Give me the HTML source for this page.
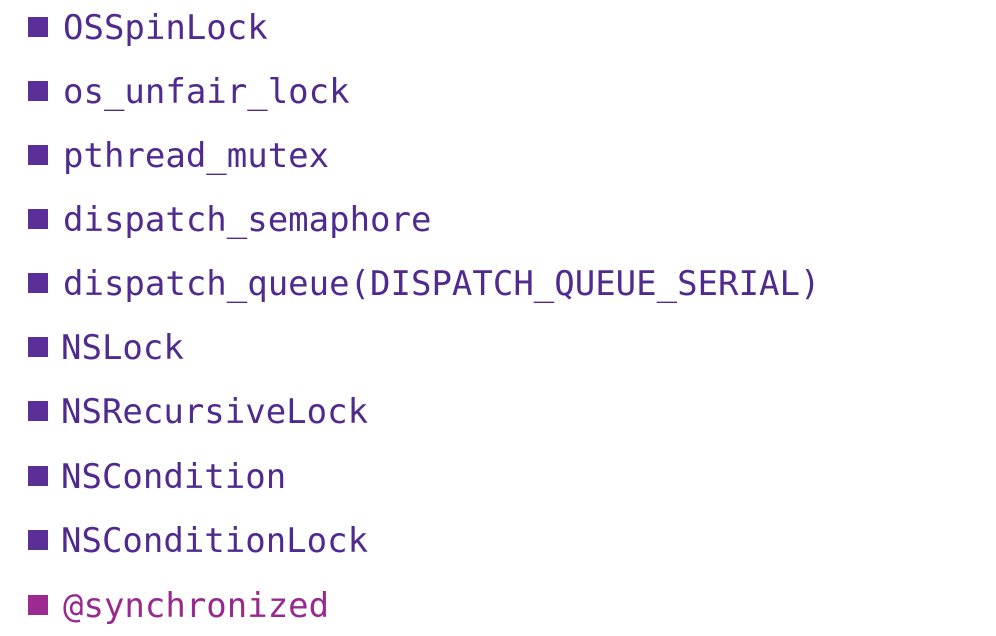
<!DOCTYPE html>
<html><head><style>
body{margin:0;width:996px;height:636px;background:#fff;position:relative;overflow:hidden}
.r{position:absolute;left:0;height:40px;line-height:40px;font-family:"DejaVu Sans Mono","Liberation Mono",monospace;font-size:34px;color:#4f2a8f;white-space:nowrap}
.r i{position:absolute;left:28px;top:10px;width:20px;height:20px;background:#5a2f97}
.r span{position:absolute;left:63px;top:1px}
.m{color:#982a8e}.m i{background:#9c2a90}
</style></head><body>
<div class="r" style="top:7px"><i></i><span>OSSpinLock</span></div>
<div class="r" style="top:71px"><i></i><span>os_unfair_lock</span></div>
<div class="r" style="top:135px"><i></i><span>pthread_mutex</span></div>
<div class="r" style="top:199px"><i></i><span>dispatch_semaphore</span></div>
<div class="r" style="top:263px"><i></i><span>dispatch_queue(DISPATCH_QUEUE_SERIAL)</span></div>
<div class="r" style="top:327px"><i></i><span style="left:61px">NSLock</span></div>
<div class="r" style="top:391px"><i></i><span style="left:61px">NSRecursiveLock</span></div>
<div class="r" style="top:456px"><i></i><span style="left:61px">NSCondition</span></div>
<div class="r" style="top:520px"><i></i><span style="left:61px">NSConditionLock</span></div>
<div class="r m" style="top:585px"><i></i><span>@synchronized</span></div>
</body></html>
